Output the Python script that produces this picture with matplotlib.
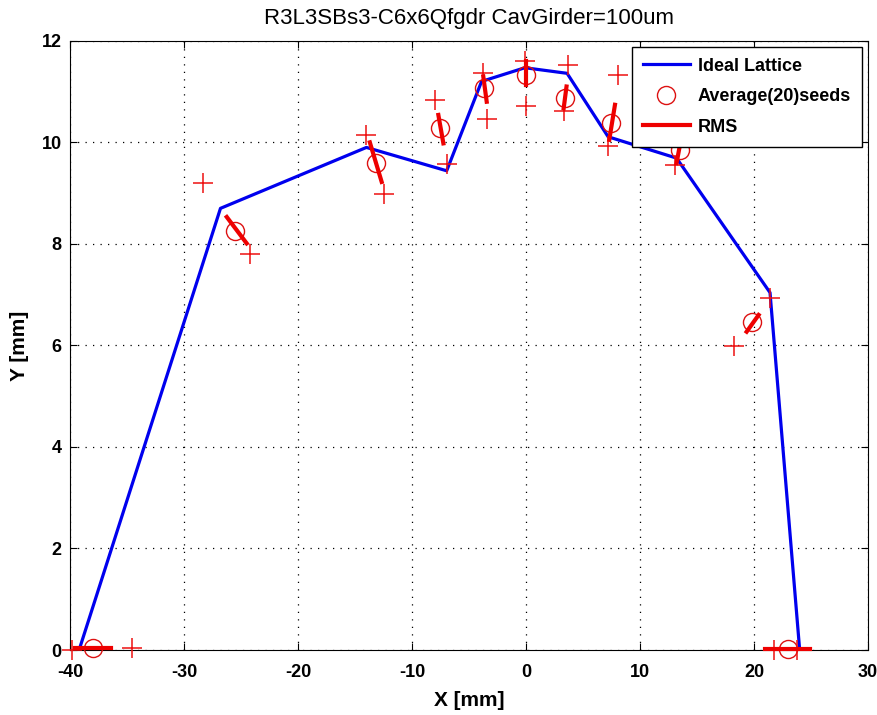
import matplotlib
matplotlib.use('Agg')
import matplotlib.pyplot as plt

plt.rcParams['font.family'] = ['Liberation Sans', 'DejaVu Sans']
plt.rcParams['axes.unicode_minus'] = False

# ideal lattice trajectory
lattice_x = [-39.2, -26.8, -14.0, -6.96, -3.9, -0.1, 3.6, 7.2, 13.2, 21.4, 24.0]
lattice_y = [0.0, 8.70, 9.90, 9.44, 11.2, 11.47, 11.36, 10.11, 9.69, 7.04, 0.0]

# average of 20 seeds
avg_x = [-37.96, -25.5, -13.2, -7.54, -3.68, 0.0, 3.42, 7.43, 13.5, 19.8, 23.0]
avg_y = [0.03, 8.25, 9.6, 10.28, 11.07, 11.33, 10.87, 10.38, 9.85, 6.47, 0.02]

# rms bars: start and end points
rms_x0 = [-39.6, -26.25, -13.7, -7.69, -3.75, 0.0, 3.55, 7.8, 13.5, 20.4, 21.0]
rms_y0 = [0.03, 8.53, 10.0, 10.54, 11.30, 11.60, 11.10, 10.74, 9.95, 6.60, 0.02]
rms_x1 = [-36.4, -24.5, -12.66, -7.25, -3.45, 0.0, 3.3, 7.3, 13.2, 19.35, 24.9]
rms_y1 = [0.03, 8.01, 9.22, 9.98, 10.80, 11.13, 10.67, 10.05, 9.59, 6.27, 0.02]

# individual seed extremes
seed_x = [-39.85, -34.6, -28.3, -24.2, -14.0, -12.46, -8.0, -6.96, -3.8, -3.39,
          -0.05, 0.0, 3.66, 3.36, 8.1, 7.2, 13.07, 13.8, 21.4, 18.2, 21.75, 23.8]
seed_y = [0.0, 0.03, 9.2, 7.8, 10.15, 8.98, 10.84, 9.58, 11.36, 10.46,
          11.61, 10.72, 11.53, 10.61, 11.33, 9.92, 9.56, 10.15, 6.93, 5.98, 0.0, 0.0]

fig = plt.figure(figsize=(8.78, 7.15), dpi=100)
ax = fig.add_axes([0.0797, 0.0909, 0.909, 0.852])

ax.plot(lattice_x, lattice_y, color='#0000ee', lw=2.3, label='Ideal Lattice', zorder=3)
ax.plot(avg_x, avg_y, 'o', ms=13, mfc='none', mec='#dd1111', mew=1.0,
        label='Average(20)seeds', zorder=4, clip_on=False)
for i in range(len(rms_x0)):
    ax.plot([rms_x0[i], rms_x1[i]], [rms_y0[i], rms_y1[i]], color='#ee0000', lw=3,
            label='RMS' if i == 0 else None, zorder=5, clip_on=False)
ax.plot(seed_x, seed_y, '+', ms=15, mew=1.1, color='#ee1111', zorder=4, clip_on=False)

ax.set_xlim(-40, 30)
ax.set_ylim(0, 12)
ax.set_xticks(range(-40, 31, 10))
ax.set_yticks(range(0, 13, 2))
ax.grid(True, color='black', linestyle=(0, (1, 5)), lw=0.9)
ax.tick_params(direction='in', top=True, right=True, length=5, labelsize=13)
ax.tick_params(axis='x', pad=10)
ax.tick_params(axis='y', pad=6)
for lab in ax.get_xticklabels() + ax.get_yticklabels():
    lab.set_fontweight('bold')
ax.set_xlabel('X [mm]', fontsize=15, fontweight='bold', labelpad=7)
ax.set_ylabel('Y [mm]', fontsize=15, fontweight='bold', labelpad=9)
ax.set_title('R3L3SBs3-C6x6Qfgdr CavGirder=100um', fontsize=16, pad=12)

leg = ax.legend(loc='upper right', fancybox=False, edgecolor='black', framealpha=1,
                prop={'weight': 'bold', 'size': 13}, borderaxespad=0.33,
                handlelength=2.6, handletextpad=0.45, labelspacing=0.75, borderpad=0.6)
leg.get_frame().set_linewidth(1.0)

fig.savefig('out.png', dpi=100)
